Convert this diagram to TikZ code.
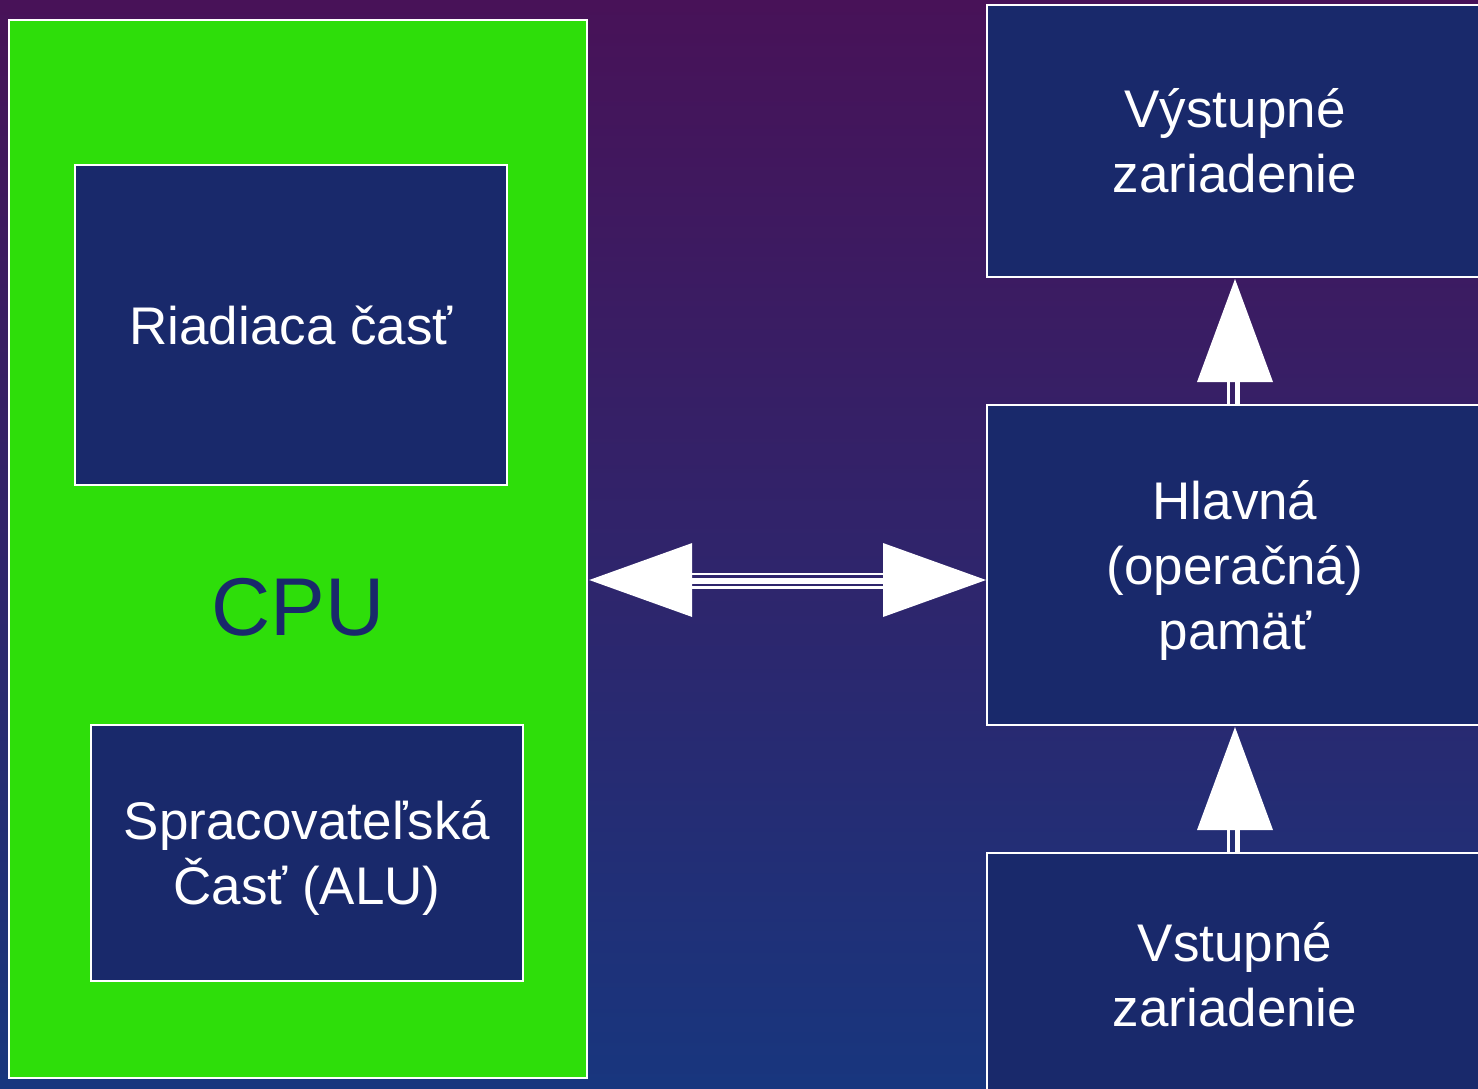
\documentclass[tikz,border=0pt]{standalone}
\usepackage{fontspec}
\setmainfont{Liberation Sans}
\usetikzlibrary{calc}

\definecolor{bgtop}{RGB}{72,18,88}
\definecolor{bgmid}{RGB}{46,34,114}
\definecolor{bgbot}{RGB}{24,54,126}
\definecolor{cpugreen}{RGB}{46,222,10}
\definecolor{navy}{RGB}{25,41,107}

\tikzset{
  unittext/.style={text=white, align=center, inner sep=0pt,
    font=\fontsize{26.5}{32.5}\selectfont},
  unitbox/.style={draw=white, line width=1pt, fill=navy, unittext},
  cpubox/.style={draw=white, line width=1.2pt, fill=cpugreen, inner sep=0pt},
  shaftline/.style={draw=white},
}

\begin{document}
\begin{tikzpicture}[x=0.5pt, y=-0.5pt]
  \useasboundingbox (0,0) rectangle (1478,1088);
  \clip (0,0) rectangle (1478,1088);

  % backdrop
  \shade[top color=bgtop, middle color=bgmid, bottom color=bgbot]
    (0,0) rectangle (1478,1088);

  % processor and its two parts
  \node[cpubox, minimum width=289pt, minimum height=529pt] (cpu) at (298,549) {};
  \node[text=navy, font=\fontsize{41}{48}\selectfont] (cpulabel) at (298,607) {CPU};
  \node[unitbox, minimum width=216pt, minimum height=160pt] (ctrl) at (291,325)
    {Riadiaca časť};
  \node[unitbox, minimum width=216pt, minimum height=128pt,
    label={[unittext, yshift=-2.5pt]center:{Spracovateľská\\Časť (ALU)}}] (alu) at (307,853) {};

  % memory and peripherals
  \node[unitbox, minimum width=248pt, minimum height=136pt] (out) at (1235,141)
    {Výstupné\\zariadenie};
  \node[unitbox, minimum width=248pt, minimum height=160pt,
    label={[unittext, yshift=-2.5pt]center:{Hlavná\\(operačná)\\pamäť}}] (mem) at (1235,565) {};
  \node[unitbox, minimum width=248pt, minimum height=122pt] (in) at (1235,975)
    {Vstupné\\zariadenie};

  % two-way link between processor and memory
  \coordinate (la) at ($(cpu.east)+(1,31)$);
  \coordinate (ra) at ($(mem.west)+(0,15)$);
  \fill[white] (la) -- ($(la)+(103,-37)$) -- ($(la)+(103,37)$) -- cycle;
  \fill[white] (ra) -- ($(ra)+(-103,-37)$) -- ($(ra)+(-103,37)$) -- cycle;
  \draw[shaftline, line width=1pt] ($(la)+(102,-6)$) -- ($(ra)+(-102,-6)$);
  \draw[shaftline, line width=2.8pt] ($(la)+(102,1)$) -- ($(ra)+(-102,1)$);
  \draw[shaftline, line width=1.2pt] ($(la)+(102,7.5)$) -- ($(ra)+(-102,7.5)$);

  % memory -> output device
  \coordinate (t1) at ($(out.south)+(0,1)$);
  \fill[white] (t1) -- ($(t1)+(-38,103)$) -- ($(t1)+(38,103)$) -- cycle;
  \draw[shaftline, line width=1.7pt] ($(t1)+(-6.7,102)$) -- ($(mem.north)+(-6.7,0)$);
  \draw[shaftline, line width=2.5pt] ($(t1)+(2.5,102)$) -- ($(mem.north)+(2.5,0)$);

  % input device -> memory
  \coordinate (t2) at ($(mem.south)+(0,1)$);
  \fill[white] (t2) -- ($(t2)+(-38,103)$) -- ($(t2)+(38,103)$) -- cycle;
  \draw[shaftline, line width=1.7pt] ($(t2)+(-6.7,102)$) -- ($(in.north)+(-6.7,0)$);
  \draw[shaftline, line width=2.5pt] ($(t2)+(2.5,102)$) -- ($(in.north)+(2.5,0)$);
\end{tikzpicture}
\end{document}
